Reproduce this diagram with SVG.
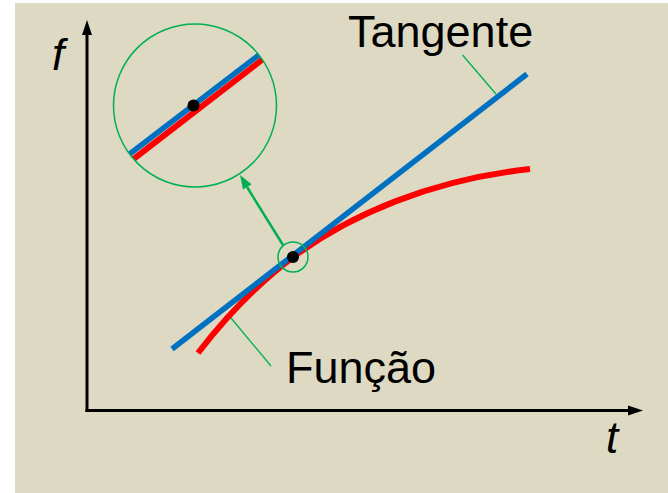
<svg xmlns="http://www.w3.org/2000/svg" width="668" height="493" viewBox="0 0 668 493">
<style>
.lbl{font-family:"Liberation Sans",Arial,sans-serif;font-size:45px;fill:#000}
.it{font-style:italic;font-size:44px}
.lead{stroke:#00B050;stroke-width:1.3;fill:none}
.axis{stroke:#000;stroke-width:3;fill:none}
.blue{stroke:#0070C0;stroke-width:5.5;fill:none}
.red{stroke:#FF0000;stroke-width:6;fill:none}
</style>
<defs>
<clipPath id="zc"><circle cx="195" cy="105.5" r="81.5"/></clipPath>
</defs>
<rect x="0" y="0" width="668" height="493" fill="#FFFFFF"/>
<rect x="15" y="3" width="653" height="490" fill="#DDD9C3"/>

<g id="axes">
<line class="axis" x1="87" y1="412" x2="87" y2="34"/>
<polygon points="87,20 82,35 92,35" fill="#000"/>
<line class="axis" x1="85.5" y1="410.5" x2="629" y2="410.5"/>
<polygon points="643,410.5 628,405.5 628,415.5" fill="#000"/>
<text class="lbl it" x="52" y="70">f</text>
<text class="lbl it" x="606" y="453">t</text>
</g>

<g id="funcao">
<path class="red" d="M198,353 C225,318 260,282 293,257 C350,215 430,180 530,169"/>
</g>

<g id="tangente">
<line class="blue" x1="172" y1="349" x2="527" y2="74"/>
</g>

<g id="ponto">
<circle cx="293" cy="257" r="6" fill="#000"/>
<circle cx="293" cy="257" r="15" fill="none" stroke="#00B050" stroke-width="1.5"/>
</g>

<g id="zoom">
<g clip-path="url(#zc)">
<line class="red" x1="114" y1="174" x2="280" y2="46"/>
<line class="blue" x1="110" y1="169" x2="277" y2="41"/>
</g>
<circle cx="195" cy="105.5" r="81.5" fill="none" stroke="#00B050" stroke-width="1.5"/>
<circle cx="193.5" cy="105.5" r="6" fill="#000"/>
</g>

<g id="label-tangente">
<text class="lbl" x="348" y="47">Tangente</text>
</g>
<g id="label-funcao">
<text class="lbl" x="286" y="383">Função</text>
</g>

<g id="connectors">
<line class="lead" x1="462.5" y1="55" x2="496" y2="94"/>
<line class="lead" x1="231" y1="318" x2="271" y2="366"/>
<line x1="283" y1="245" x2="247" y2="187" stroke="#00B050" stroke-width="2.5"/>
<polygon points="240,175 251.6,184.3 243,189.5" fill="#00B050"/>
</g>
</svg>
